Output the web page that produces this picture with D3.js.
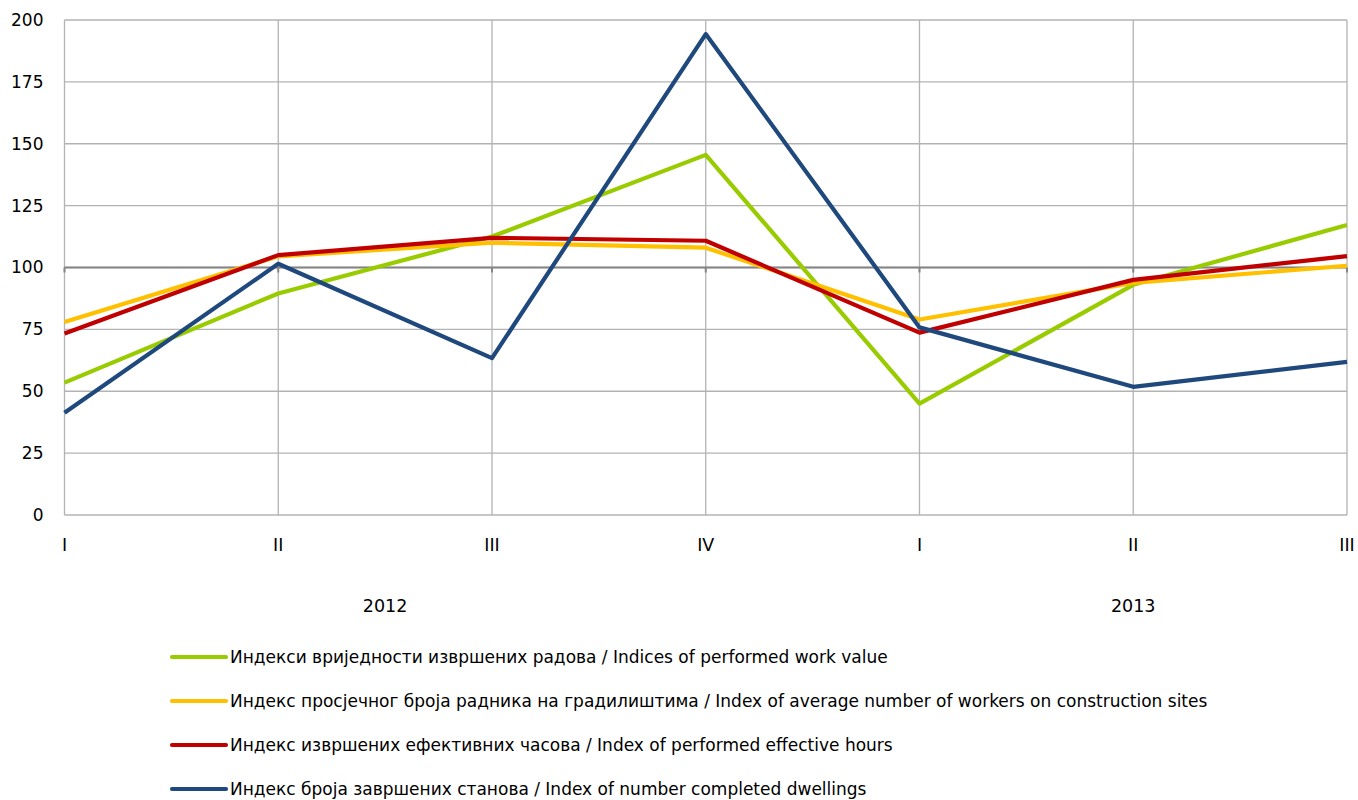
<!DOCTYPE html>
<html>
<head>
<meta charset="utf-8">
<script src="https://cdn.jsdelivr.net/npm/d3@7"></script>
<style>
  body { margin: 0; background: #fff; }
  text { font-family: "DejaVu Sans", sans-serif; fill: #000; }
</style>
</head>
<body>
<svg id="main" width="1358" height="800"></svg>
<script>
var quarters = ["I", "II", "III", "IV", "I", "II", "III"];
var years = [{label: "2012", from: 0, to: 3}, {label: "2013", from: 4, to: 6}];
var yTicks = [0, 25, 50, 75, 100, 125, 150, 175, 200];

var workValue = [53.5, 89.5, 112.5, 145.5, 45, 93, 117.2];
var workers = [78, 104.5, 110, 108, 79, 93.8, 100.7];
var hours = [73.3, 105, 112, 110.8, 73.7, 95, 104.6];
var dwellings = [41.3, 101.5, 63.4, 194.3, 75.8, 51.8, 61.9];

var seriesNames = [
    "Индекси вриједности извршених радова / Indices of performed work value",
    "Индекс просјечног броја радника на градилиштима / Index of average number of workers on construction sites",
    "Индекс извршених ефективних часова / Index of performed effective hours",
    "Индекс броја завршених станова / Index of number completed dwellings"
];
var seriesColors = ["#99cc00", "#ffc000", "#c00000", "#1f497d"];
var seriesValues = [workValue, workers, hours, dwellings];

var svg = d3.select("#main"),
    margin = {top: 20, right: 11, bottom: 285, left: 64.5},
    width = +svg.attr("width") - margin.left - margin.right,
    height = +svg.attr("height") - margin.top - margin.bottom;

var xScale = d3.scaleLinear().domain([0, quarters.length - 1]).range([0, width]),
    yScale = d3.scaleLinear().domain([0, 200]).range([height, 0]);

var g = svg.append("g")
    .attr("transform", "translate(" + margin.left + "," + margin.top + ")");

// horizontal grid
g.append("g").selectAll("line")
    .data(yTicks)
    .enter().append("line")
    .attr("x1", 0).attr("x2", width)
    .attr("y1", function(d) { return yScale(d); })
    .attr("y2", function(d) { return yScale(d); })
    .attr("stroke", "#b3b3b3")
    .attr("stroke-width", 1.3);

// vertical grid
g.append("g").selectAll("line")
    .data(quarters)
    .enter().append("line")
    .attr("x1", function(d, i) { return xScale(i); })
    .attr("x2", function(d, i) { return xScale(i); })
    .attr("y1", 0).attr("y2", height)
    .attr("stroke", "#b3b3b3")
    .attr("stroke-width", 1.3);

// y axis labels
g.append("g").selectAll("text")
    .data(yTicks)
    .enter().append("text")
    .attr("x", -21)
    .attr("y", function(d) { return yScale(d); })
    .attr("dy", "0.35em")
    .attr("text-anchor", "end")
    .style("font-size", "17px")
    .text(function(d) { return d; });

// horizontal axis crosses at 100
g.append("line")
    .attr("x1", 0).attr("x2", width)
    .attr("y1", yScale(100)).attr("y2", yScale(100))
    .attr("stroke", "#858585")
    .attr("stroke-width", 2.2);

g.append("g").selectAll("line")
    .data(quarters)
    .enter().append("line")
    .attr("x1", function(d, i) { return xScale(i); })
    .attr("x2", function(d, i) { return xScale(i); })
    .attr("y1", yScale(100)).attr("y2", yScale(100) + 5)
    .attr("stroke", "#858585")
    .attr("stroke-width", 2);

// category labels
g.append("g").selectAll("text")
    .data(quarters)
    .enter().append("text")
    .attr("x", function(d, i) { return xScale(i); })
    .attr("y", height + 36)
    .attr("text-anchor", "middle")
    .style("font-size", "17.5px")
    .text(function(d) { return d; });

g.append("g").selectAll("text")
    .data(years)
    .enter().append("text")
    .attr("x", function(d) { return (xScale(d.from) + xScale(d.to)) / 2; })
    .attr("y", height + 97)
    .attr("text-anchor", "middle")
    .style("font-size", "17.5px")
    .text(function(d) { return d.label; });

var line = d3.line()
    .x(function(d, i) { return xScale(i); })
    .y(function(d) { return yScale(d); });

g.append("g").selectAll("path")
    .data(seriesValues)
    .enter().append("path")
    .attr("d", function(d) { return line(d); })
    .attr("fill", "none")
    .attr("stroke", function(d, i) { return seriesColors[i]; })
    .attr("stroke-width", 4.2)
    .attr("stroke-linejoin", "round");

// legend
var legend = svg.append("g").selectAll("g")
    .data(seriesNames)
    .enter().append("g")
    .attr("transform", function(d, i) { return "translate(172," + (657 + i * 44) + ")"; });

legend.append("line")
    .attr("x1", 0).attr("x2", 54)
    .attr("stroke", function(d, i) { return seriesColors[i]; })
    .attr("stroke-width", 4.2)
    .attr("stroke-linecap", "round");

legend.append("text")
    .attr("x", 58)
    .attr("dy", "0.35em")
    .style("font-size", "17px")
    .text(function(d) { return d; });
</script>
</body>
</html>
